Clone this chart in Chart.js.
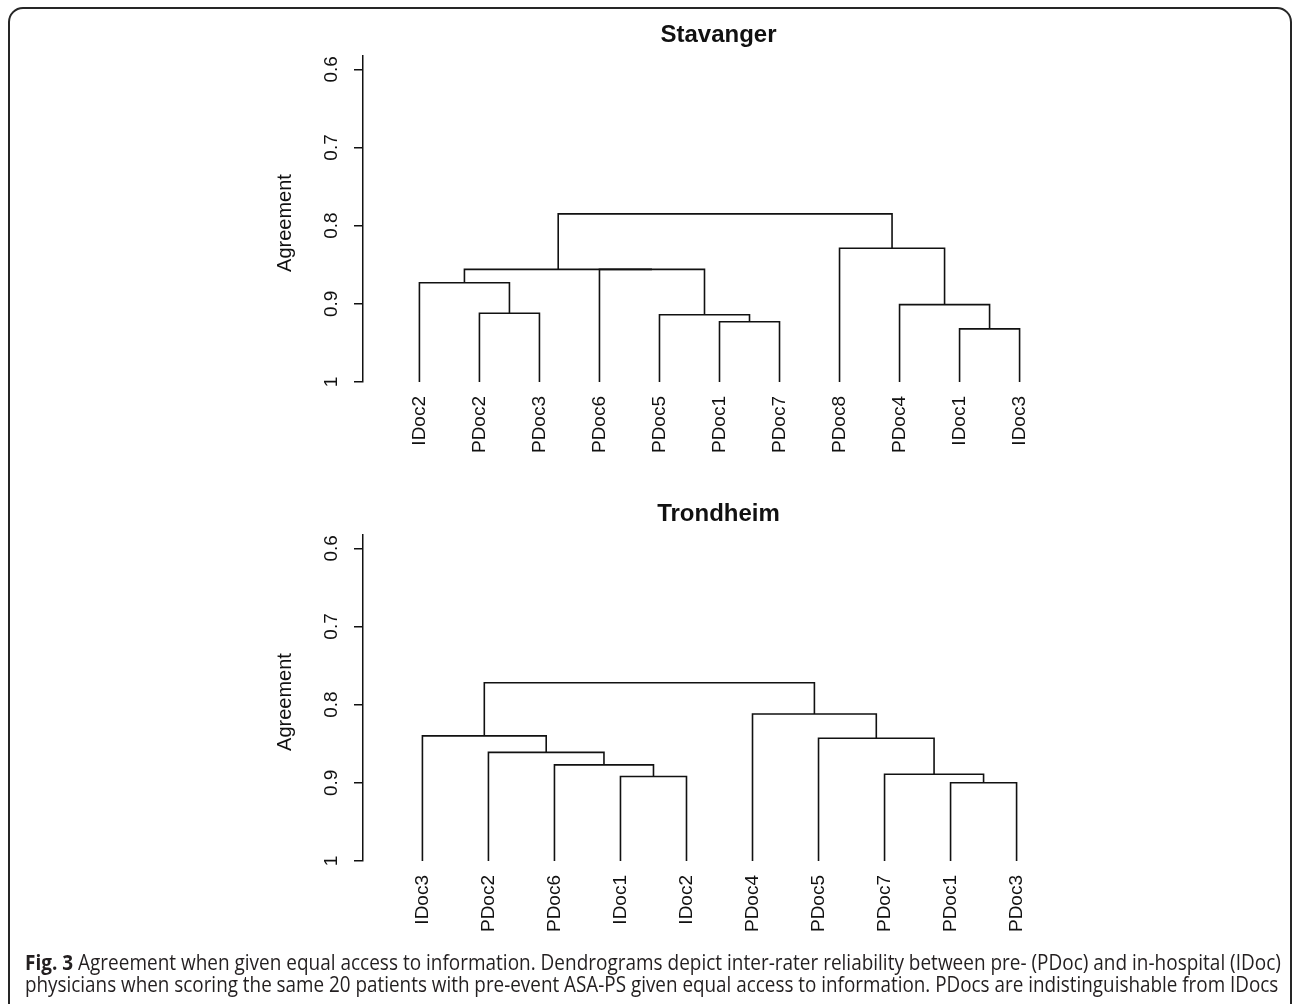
<!DOCTYPE html>
<html>
<head>
<meta charset="utf-8">
<script src="https://cdn.jsdelivr.net/npm/chart.js@4.4.1/dist/chart.umd.min.js"></script>
<style>
  body { margin: 0; background: #fff; width: 1293px; height: 1004px; overflow: hidden; position: relative; }
  #frame { position: absolute; left: 8px; top: 7px; width: 1284px; height: 1060px; border: 2px solid #262626; border-radius: 15px; box-sizing: border-box; }
  canvas { position: absolute; left: 0; }
  .cap { position: absolute; left: 25px; font-family: "Open Sans", sans-serif; font-size: 21px; line-height: 20px; color: #231f20; white-space: nowrap; transform-origin: 0 0; }
</style>
</head>
<body>
<div id="frame"></div>
<canvas id="stavanger" width="1293" height="480" style="top:0"></canvas>
<canvas id="trondheim" width="1293" height="524" style="top:480px"></canvas>
<div class="cap" id="cap1" style="top:952px"><b>Fig. 3</b> Agreement when given equal access to information. Dendrograms depict inter-rater reliability between pre- (PDoc) and in-hospital (IDoc)</div>
<div class="cap" id="cap2" style="top:974px">physicians when scoring the same 20 patients with pre-event ASA-PS given equal access to information. PDocs are indistinguishable from IDocs</div>
<script>
// leaf order as drawn, and merges in R hclust style (negative = leaf, positive = earlier merge)
const stavangerLabels = ["IDoc2", "PDoc2", "PDoc3", "PDoc6", "PDoc5", "PDoc1", "PDoc7", "PDoc8", "PDoc4", "IDoc1", "IDoc3"];
const stavangerMerge = [[-10, -11], [-6, -7], [-5, 2], [-2, -3], [-9, 1], [-1, 4], [-4, 3], [6, 7], [-8, 5], [8, 9]];
const stavangerHeight = [0.932, 0.923, 0.914, 0.912, 0.901, 0.873, 0.856, 0.856, 0.829, 0.785];

const trondheimLabels = ["IDoc3", "PDoc2", "PDoc6", "IDoc1", "IDoc2", "PDoc4", "PDoc5", "PDoc7", "PDoc1", "PDoc3"];
const trondheimMerge = [[-9, -10], [-4, -5], [-8, 1], [-3, 2], [-2, 4], [-7, 3], [-1, 5], [-6, 6], [7, 8]];
const trondheimHeight = [0.900, 0.892, 0.889, 0.877, 0.861, 0.843, 0.840, 0.812, 0.772];

const yTicks = [0.6, 0.7, 0.8, 0.9, 1];
const yLabel = "Agreement";

const FONT = '"Liberation Sans", Arial, sans-serif';
const INK = "#111";

// Turn the merge table into the bracket paths of the dendrogram
function linkPaths(merge, height) {
  let pos = [];
  let paths = [];
  const node = (id) => (id < 0 ? { x: -id, y: 1 } : pos[id - 1]);
  merge.forEach((m, i) => {
    let a = node(m[0]);
    let b = node(m[1]);
    let h = height[i];
    paths.push([
      { x: a.x, y: a.y },
      { x: a.x, y: h },
      { x: b.x, y: h },
      { x: b.x, y: b.y },
    ]);
    pos.push({ x: (a.x + b.x) / 2, y: h });
  });
  return paths;
}

// Title, rotated y tick labels and y title, drawn the way R does them
const rText = {
  id: "rText",
  afterDraw(chart, args, opts) {
    const { ctx, chartArea } = chart;
    const y = chart.scales.y;
    ctx.save();
    ctx.fillStyle = INK;
    ctx.textBaseline = "alphabetic";
    ctx.textAlign = "center";
    ctx.font = "bold 24px " + FONT;
    ctx.fillText(opts.title, (chartArea.left + chartArea.right) / 2 - 1, chartArea.top - 14);

    ctx.font = "19px " + FONT;
    yTicks.forEach((v) => {
      ctx.save();
      ctx.translate(chartArea.left - 26, y.getPixelForValue(v));
      ctx.rotate(-Math.PI / 2);
      ctx.fillText(String(v), 0, 0);
      ctx.restore();
    });

    ctx.font = "20px " + FONT;
    ctx.save();
    ctx.translate(chartArea.left - 72, (chartArea.top + chartArea.bottom) / 2 + 4);
    ctx.rotate(-Math.PI / 2);
    ctx.fillText(yLabel, 0, 0);
    ctx.restore();
    ctx.restore();
  },
};

function createDendrogram(canvasId, title, labels, merge, height, xMin, xMax, padTop, padBottom) {
  let datasets = linkPaths(merge, height).map((path) => ({
    data: path,
    borderColor: INK,
    borderWidth: 1.6,
    pointRadius: 0,
    fill: false,
    tension: 0,
  }));

  new Chart(document.getElementById(canvasId), {
    type: "line",
    data: { datasets: datasets },
    plugins: [rText],
    options: {
      responsive: false,
      animation: false,
      layout: { padding: { left: 343, right: 217, top: padTop, bottom: padBottom } },
      plugins: {
        legend: { display: false },
        tooltip: { enabled: false },
        rText: { title: title },
      },
      scales: {
        x: {
          type: "linear",
          min: xMin,
          max: xMax,
          grid: { display: false },
          border: { display: false },
          afterBuildTicks: (s) => {
            s.ticks = labels.map((_, i) => ({ value: i + 1 }));
          },
          afterFit: (s) => {
            s.height = 90;
          },
          ticks: {
            autoSkip: false,
            minRotation: 90,
            maxRotation: 90,
            padding: 6,
            color: INK,
            font: { family: FONT, size: 19 },
            callback: (v) => labels[v - 1],
          },
        },
        y: {
          type: "linear",
          reverse: true,
          min: 0.583,
          max: 1,
          afterBuildTicks: (s) => {
            s.ticks = yTicks.map((v) => ({ value: v }));
          },
          afterFit: (s) => {
            s.width = 20;
          },
          ticks: { display: false },
          grid: { drawOnChartArea: false, drawTicks: true, tickLength: 9, color: INK, lineWidth: 1.5 },
          border: { display: true, color: INK, width: 1.5 },
        },
      },
    },
  });
}

createDendrogram("stavanger", "Stavanger", stavangerLabels, stavangerMerge, stavangerHeight, 0.06, 11.94, 56, 8);
createDendrogram("trondheim", "Trondheim", trondheimLabels, trondheimMerge, trondheimHeight, 0.1, 10.9, 55, 53);

// stretch caption lines to the figure width
["cap1", "cap2"].forEach((id, i) => {
  let el = document.getElementById(id);
  let target = i === 0 ? 1256 : 1253;
  el.style.transform = "scaleX(" + target / el.scrollWidth + ")";
});
</script>
</body>
</html>
